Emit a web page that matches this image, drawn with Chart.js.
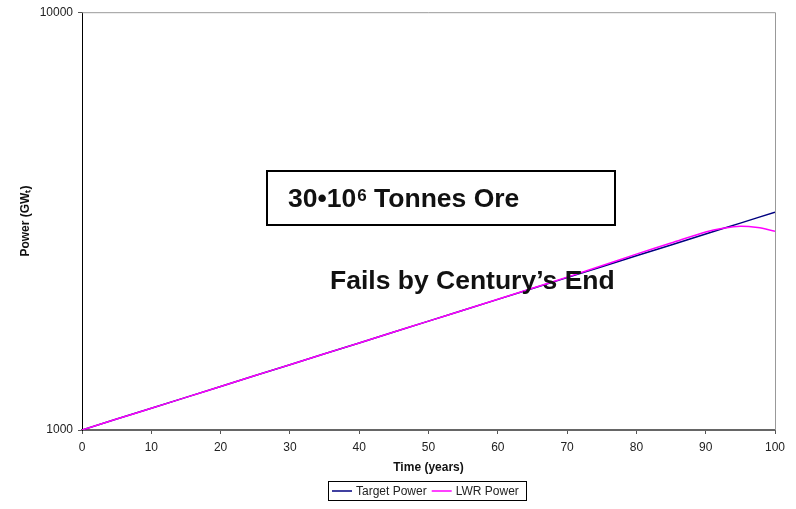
<!DOCTYPE html>
<html>
<head>
<meta charset="utf-8">
<script src="https://cdn.jsdelivr.net/npm/chart.js@4/dist/chart.umd.min.js"></script>
<style>
  html, body { margin: 0; padding: 0; background: #fff; }
  #wrap { width: 796px; height: 509px; }
</style>
</head>
<body>
<div id="wrap"><canvas id="chart" width="796" height="509"></canvas></div>
<script>
// values
const years       = [0, 5, 10, 15, 20, 25, 30, 35, 40, 45, 50, 55, 60, 65, 70, 75, 80, 85, 90, 92.5, 95, 97.5, 100];
const targetPower = [1000, 1062, 1127, 1197, 1271, 1350, 1433, 1522, 1616, 1716, 1822, 1935, 2054, 2181, 2316, 2460, 2612, 2773, 2945, 3035, 3127, 3223, 3320];
const lwrPower    = [1000, 1062, 1127, 1197, 1271, 1350, 1433, 1522, 1616, 1716, 1822, 1935, 2056, 2185, 2322, 2472, 2636, 2802, 2978, 3040, 3075, 3052, 2992];
const yTicks = [1000, 10000];
const seriesColors = ['#000080', '#ff00ff'];

const FONT = 'Arial, "Liberation Sans", sans-serif';

const toPoints = (vals) => vals.map((v, i) => ({ x: years[i], y: v }));

const frame = {
    id: 'frame',
    beforeDatasetsDraw(chart) {
        const { ctx, chartArea: a } = chart;
        ctx.save();
        ctx.strokeStyle = '#999';
        ctx.lineWidth = 1;
        ctx.beginPath();
        ctx.moveTo(a.left, a.top + 0.5);
        ctx.lineTo(a.right + 0.5, a.top + 0.5);
        ctx.lineTo(a.right + 0.5, a.bottom);
        ctx.stroke();
        ctx.restore();
    },
    afterDraw(chart) {
        const ctx = chart.ctx;
        ctx.save();
        // boxed note
        ctx.strokeStyle = '#000';
        ctx.lineWidth = 2;
        ctx.strokeRect(267, 171, 348, 54);
        ctx.fillStyle = '#111';
        ctx.textBaseline = 'alphabetic';
        ctx.font = 'bold 26.5px ' + FONT;
        let x = 288;
        ctx.fillText('30•10', x, 207);
        x += ctx.measureText('30•10').width + 1;
        ctx.font = 'bold 17px ' + FONT;
        ctx.fillText('6', x, 201);
        x += ctx.measureText('6').width;
        ctx.font = 'bold 26.5px ' + FONT;
        ctx.fillText(' Tonnes Ore', x, 207);
        ctx.fillText('Fails by Century\u2019s End', 330, 289);

        // legend
        ctx.lineWidth = 1;
        ctx.strokeStyle = '#000';
        ctx.strokeRect(328.5, 481.5, 198, 19);
        ctx.font = '12px ' + FONT;
        ctx.textBaseline = 'middle';
        ctx.fillStyle = '#222';
        let lx = 332;
        chart.data.datasets.forEach((ds, i) => {
            ctx.strokeStyle = seriesColors[i];
            ctx.lineWidth = 1.5;
            ctx.beginPath();
            ctx.moveTo(lx, 491);
            ctx.lineTo(lx + 20, 491);
            ctx.stroke();
            ctx.fillText(ds.label, lx + 24, 491.5);
            lx += 24 + ctx.measureText(ds.label).width + 5;
        });
        ctx.restore();
    }
};

new Chart(document.getElementById('chart'), {
    type: 'line',
    data: {
        datasets: [
            {
                label: 'Target Power',
                data: toPoints(targetPower),
                borderColor: seriesColors[0],
                borderWidth: 1.5,
                pointRadius: 0,
                tension: 0,
                order: 2
            },
            {
                label: 'LWR Power',
                data: toPoints(lwrPower),
                borderColor: seriesColors[1],
                borderWidth: 1.5,
                pointRadius: 0,
                tension: 0.3,
                order: 1
            }
        ]
    },
    options: {
        responsive: false,
        animation: false,
        layout: { padding: { left: 0, right: 21, top: 12, bottom: 29 } },
        plugins: { legend: { display: false }, tooltip: { enabled: false } },
        scales: {
            x: {
                type: 'linear',
                min: 0,
                max: 100,
                ticks: { stepSize: 10, color: '#222', font: { family: FONT, size: 12 }, padding: 6, maxRotation: 0 },
                grid: { drawOnChartArea: false, drawTicks: true, tickLength: 4, color: '#555' },
                border: { display: true, color: '#666', width: 2 },
                title: { display: true, text: 'Time (years)', color: '#111', font: { family: FONT, size: 12, weight: 'bold' }, padding: { top: 4, bottom: 5 } },
                afterFit(scale) { scale.height = 50; }
            },
            y: {
                type: 'logarithmic',
                min: 1000,
                max: 10000,
                afterBuildTicks(scale) { scale.ticks = yTicks.map(v => ({ value: v })); },
                ticks: { color: '#222', font: { family: FONT, size: 12 }, padding: 5, callback: v => String(v) },
                grid: { drawOnChartArea: false, drawTicks: true, tickLength: 4, color: '#555' },
                border: { display: true, color: '#000', width: 1 },
                title: { display: true, text: 'Power (GW\u209C)', color: '#111', font: { family: FONT, size: 12, weight: 'bold' }, padding: { top: 18, bottom: 0 } },
                afterFit(scale) { scale.width = 82; }
            }
        }
    },
    plugins: [frame]
});
</script>
</body>
</html>
